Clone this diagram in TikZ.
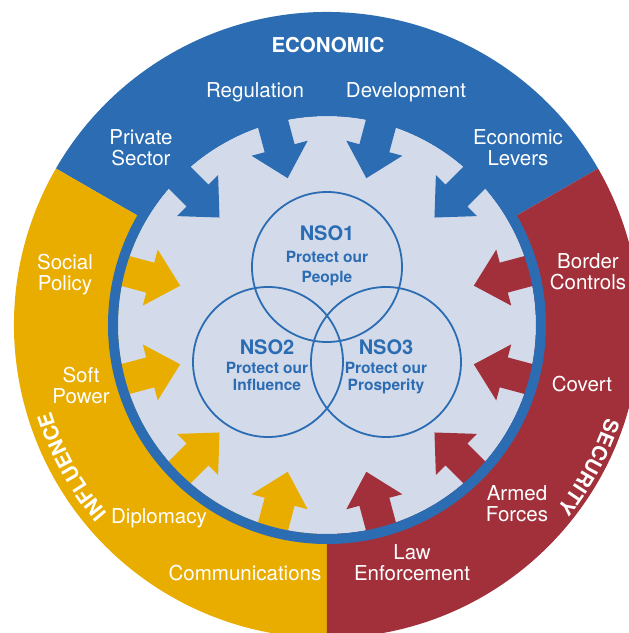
\documentclass[tikz,border=0pt]{standalone}
\usepackage{fontspec}
\setmainfont{TeX Gyre Heros}
\usetikzlibrary{decorations.text}
\definecolor{ecoblue}{RGB}{43,108,178}
\definecolor{infyellow}{RGB}{233,173,0}
\definecolor{secred}{RGB}{162,48,59}
\definecolor{corebg}{RGB}{211,219,235}
\tikzset{
  lbl/.style={text=white, font=\fontsize{20.5}{21}\selectfont, inner sep=0pt, anchor=base},
  sectitle/.style={text=white, font=\bfseries\fontsize{20.5}{21}\selectfont, inner sep=0pt, anchor=base},
  nsotitle/.style={text=ecoblue, font=\bfseries\fontsize{20}{20}\selectfont, inner sep=0pt, anchor=base},
  nsosub/.style={text=ecoblue, font=\bfseries\fontsize{15.5}{16}\selectfont, inner sep=0pt, anchor=base},
  nsoring/.style={circle, draw=ecoblue, line width=1.8pt, minimum size=150pt, inner sep=0pt},
}
\begin{document}
\begin{tikzpicture}[x=1pt,y=1pt]
\useasboundingbox (-327,-308) rectangle (302,325);
\clip (-327,-308) rectangle (302,325);
% sectors
\fill[ecoblue] (0,0) -- (30:313) arc[start angle=30,end angle=150,radius=313] -- cycle;
\fill[infyellow] (0,0) -- (150:313) arc[start angle=150,end angle=270,radius=313] -- cycle;
\fill[secred] (0,0) -- (270:313) arc[start angle=270,end angle=390,radius=313] -- cycle;
% core
\fill[corebg] (0,0) circle[radius=209];
% arrows
\foreach \a/\c in {45/ecoblue,75/ecoblue,105/ecoblue,135/ecoblue,
                   165/infyellow,195/infyellow,225/infyellow,255/infyellow,
                   285/secred,315/secred,345/secred,15/secred}{
  \fill[\c, rotate=\a] (152,0) -- (183,29) -- (183,15.5) -- (214,15.5)
        -- (214,-15.5) -- (183,-15.5) -- (183,-29) -- cycle;
}
% ring
\fill[ecoblue, even odd rule] (0,0) circle[radius=219] (0,0) circle[radius=209];
% NSO circles
\node[nsoring] (nso1) at (0,58) {};
\node[nsoring] (nso2) at (-59,-37) {};
\node[nsoring] (nso3) at (59,-37) {};
\node[nsotitle] (t1) at (0,85) {NSO1};
\node[nsosub] (t1a) at (0,63) {Protect our};
\node[nsosub] (t1b) at (0,43) {People};
\node[nsotitle] (t2) at (-60,-29) {NSO2};
\node[nsosub] (t2a) at (-60,-48) {Protect our};
\node[nsosub] (t2b) at (-60,-65) {Influence};
\node[nsotitle] (t3) at (59,-29) {NSO3};
\node[nsosub] (t3a) at (59,-48) {Protect our};
\node[nsosub] (t3b) at (59,-65) {Prosperity};
% economic labels
\node[sectitle] (eco) at (1,273) {ECONOMIC};
\node[lbl] (reg) at (-72,228) {Regulation};
\node[lbl] (dev) at (79,228) {Development};
\node[lbl] (ps1) at (-186,181) {Private};
\node[lbl] (ps2) at (-186,160) {Sector};
\node[lbl] (el1) at (191,181) {Economic};
\node[lbl] (el2) at (191,160) {Levers};
% influence labels
\node[lbl] (sp1) at (-262,56) {Social};
\node[lbl] (sp2) at (-262,35) {Policy};
\node[lbl] (sf1) at (-246,-57) {Soft};
\node[lbl] (sf2) at (-246,-78) {Power};
\node[lbl] (dip) at (-168,-198) {Diplomacy};
\node[lbl] (com) at (-82,-255) {Communications};
% security labels
\node[lbl] (bc1) at (261,57) {Border};
\node[lbl] (bc2) at (261,36) {Controls};
\node[lbl] (cov) at (255,-66) {Covert};
\node[lbl] (af1) at (190,-175) {Armed};
\node[lbl] (af2) at (190,-196) {Forces};
\node[lbl] (le1) at (85,-234) {Law};
\node[lbl] (le2) at (85,-255) {Enforcement};
% curved titles
\path[decorate, decoration={text along path, text align=center, text color=white,
   text={|\bfseries\fontsize{20.5}{21}\selectfont|INFLUENCE}}]
   (240:289) arc[start angle=240, end angle=178, radius=289];
\path[decorate, decoration={text along path, text align=center, text color=white,
   text={|\bfseries\fontsize{20.5}{21}\selectfont|SECURITY}}]
   (2:294) arc[start angle=2, end angle=-59, radius=294];
\end{tikzpicture}
\end{document}
